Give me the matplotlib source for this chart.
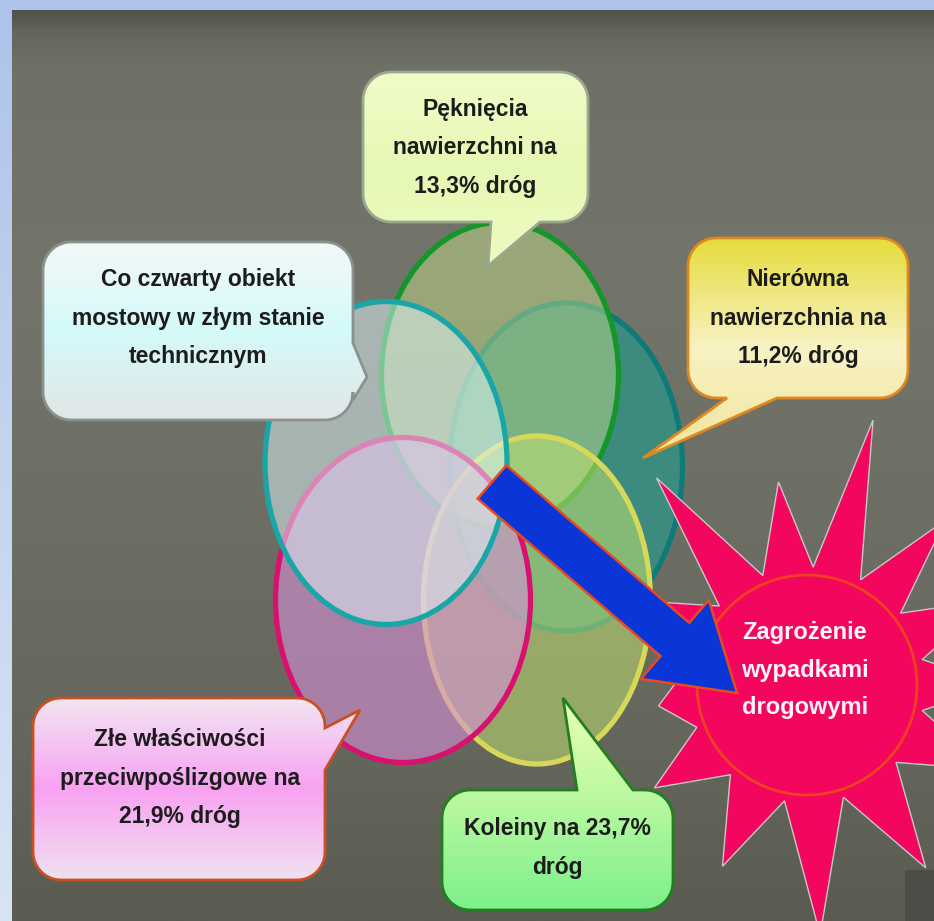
import numpy as np
import matplotlib.pyplot as plt
from matplotlib.patches import Ellipse, Polygon, Circle, FancyArrow, Rectangle
from matplotlib.colors import LinearSegmentedColormap

W, H = 934, 921
FONT = ['Liberation Sans', 'DejaVu Sans']

# callout texts
box_texts = [
    "Pęknięcia\nnawierzchni na\n13,3% dróg",
    "Co czwarty obiekt\nmostowy w złym stanie\ntechnicznym",
    "Nierówna\nnawierzchnia na\n11,2% dróg",
    "Złe właściwości\nprzeciwpoślizgowe na\n21,9% dróg",
    "Koleiny na 23,7%\ndróg",
]
center_text = "Zagrożenie\nwypadkami\ndrogowymi"

# ellipses: center x, center y, width, height, fill, alpha, edge
ell_x = [566, 500, 537, 403, 386]
ell_y = [467, 375, 600, 600, 463]
ell_w = [233, 237, 227, 255, 242]
ell_h = [328, 305, 328, 325, 323]
ell_fill = ['#3d8a7e', '#c4e08a', '#c0e070', '#d890d8', '#e0f8fc']
ell_alpha = [1.0, 0.47, 0.55, 0.6, 0.5]
ell_edge = ['#0e7a7a', '#14962a', '#d8d858', '#d81070', '#1aa6a6']

# callout boxes: x0, y0, x1, y1, side of tail, tail base, tip
boxes = [
    (363, 72, 588, 222, 'bottom', (491, 540), (488, 266)),
    (43, 242, 353, 420, 'right', (343, 400), (367, 377)),
    (688, 238, 908, 398, 'bottom', (727, 777), (643, 458)),
    (33, 698, 325, 880, 'right', (728, 770), (360, 710)),
    (442, 790, 673, 910, 'top', (577, 633), (563, 698)),
]
box_grad = [
    ['#f0fcc8', '#e6f8b4', '#eefcc0'],
    ['#f4f8f8', '#d4fafa', '#e2e6e6'],
    ['#e6dc3c', '#f8f2c4', '#f0e69c'],
    ['#f2e6f2', '#f8a2f2', '#f0e2f0'],
    ['#ecffb4', '#b8f8a0', '#7cf08c'],
]
box_edge = ['#9aa890', '#8a9290', '#e08820', '#c85020', '#208020']
text_xy = [(475, 148), (198, 318), (798, 318), (180, 778), (557, 848)]

# star
star_ang = [-150, -126, -98, -76, -50, -25, 0, 25, 57, 87, 115, 146, 172]
star_r = [165, 256, 205, 273, 215, 200, 190, 200, 218, 250, 200, 184, 150]


def callout_pts(x0, y0, x1, y1, r, side, base, tip):
    pts = []

    def arc(cx, cy, a0, a1):
        for a in np.linspace(np.radians(a0), np.radians(a1), 12):
            pts.append((cx + r * np.cos(a), cy + r * np.sin(a)))

    if side == 'top':
        pts += [(base[0], y0), tip, (base[1], y0)]
    arc(x1 - r, y0 + r, -90, 0)
    if side == 'right':
        pts += [(x1, base[0]), tip, (x1, base[1])]
    arc(x1 - r, y1 - r, 0, 90)
    if side == 'bottom':
        pts += [(base[1], y1), tip, (base[0], y1)]
    arc(x0 + r, y1 - r, 90, 180)
    if side == 'left':
        pts += [(x0, base[1]), tip, (x0, base[0])]
    arc(x0 + r, y0 + r, 180, 270)
    return pts


def gradient(ax, clip, colors, ext, z):
    cmap = LinearSegmentedColormap.from_list('g', colors)
    g = np.linspace(0, 1, 512).reshape(-1, 1)
    im = ax.imshow(g, cmap=cmap, extent=ext, aspect='auto', zorder=z,
                   interpolation='bicubic')
    im.set_clip_path(clip)
    return im


fig = plt.figure(figsize=(W / 100, H / 100), dpi=100)
ax = fig.add_axes([0, 0, 1, 1])
ax.axis('off')

# frame and dark panel
bg = Rectangle((0, 0), W, H, facecolor='#b0c4ec', zorder=0)
ax.add_patch(bg)
gradient(ax, bg, ['#aec2ea', '#c4d4f0', '#d8e4f4'], (0, W, H, 0), 0.5)
panel = Rectangle((12, 10), W - 12, H - 10, facecolor='#6e6f64', zorder=1)
ax.add_patch(panel)
panel_cols = [(0, '#505247'), (0.025, '#66675c'), (0.06, '#707166'), (0.3, '#74756a'),
              (0.55, '#6e6f64'), (0.8, '#65665c'), (1, '#5a5b51')]
gradient(ax, panel, panel_cols, (12, W, H, 10), 1.1)
ax.add_patch(Rectangle((905, 870), 29, 51, facecolor='#4c4d46', zorder=1.2))

# ellipses
for i in range(5):
    ax.add_patch(Ellipse((ell_x[i], ell_y[i]), ell_w[i], ell_h[i],
                         facecolor=ell_fill[i], alpha=ell_alpha[i], zorder=2 + i * 0.1))
    ax.add_patch(Ellipse((ell_x[i], ell_y[i]), ell_w[i], ell_h[i], facecolor='none',
                         edgecolor=ell_edge[i], lw=3.8, zorder=2.05 + i * 0.1))

# starburst
sc = (807, 685)
pts = []
for k in range(len(star_ang)):
    a = np.radians(star_ang[k])
    pts.append((sc[0] + star_r[k] * np.cos(a), sc[1] + star_r[k] * np.sin(a)))
    nxt = star_ang[(k + 1) % len(star_ang)]
    if nxt < star_ang[k]:
        nxt += 360
    m = np.radians((star_ang[k] + nxt) / 2)
    pts.append((sc[0] + 118 * np.cos(m), sc[1] + 118 * np.sin(m)))
ax.add_patch(Polygon(pts, closed=True, facecolor='#f2065e', edgecolor='#c8c8c8',
                     lw=1, zorder=3))
ax.add_patch(Circle(sc, 110, facecolor='#f2065e', edgecolor='#f04020', lw=2, zorder=3.1))
ax.text(805, 670, center_text, ha='center', va='center', fontsize=17,
        fontweight='bold', color='#fff4f8', family=FONT, linespacing=1.8, zorder=6)

# arrow
ax.add_patch(FancyArrow(492, 482, 245, 211, width=44, head_width=104, head_length=82,
                        length_includes_head=True, facecolor='#0a36d8',
                        edgecolor='#e84a20', lw=1.8, zorder=4))

# callouts
for i, b in enumerate(boxes):
    x0, y0, x1, y1, side, base, tip = b
    fillp = Polygon(callout_pts(x0, y0, x1, y1, 28, side, base, tip), closed=True,
                    facecolor='white', edgecolor='none', zorder=5)
    ax.add_patch(fillp)
    ax.add_patch(Polygon(callout_pts(x0, y0, x1, y1, 28, side, base, tip), closed=True,
                         facecolor='none', edgecolor=box_edge[i], lw=2, zorder=5.2))
    gradient(ax, fillp, box_grad[i], (min(x0, tip[0]), max(x1, tip[0]),
                                      max(y1, tip[1]), min(y0, tip[1])), 5.1)
    ax.text(text_xy[i][0], text_xy[i][1], box_texts[i], ha='center', va='center',
            fontsize=16.5, fontweight='bold', color='#1c1c1c', family=FONT,
            linespacing=1.88, zorder=6)

ax.set_xlim(0, W)
ax.set_ylim(H, 0)
fig.savefig('out.png', dpi=100)
